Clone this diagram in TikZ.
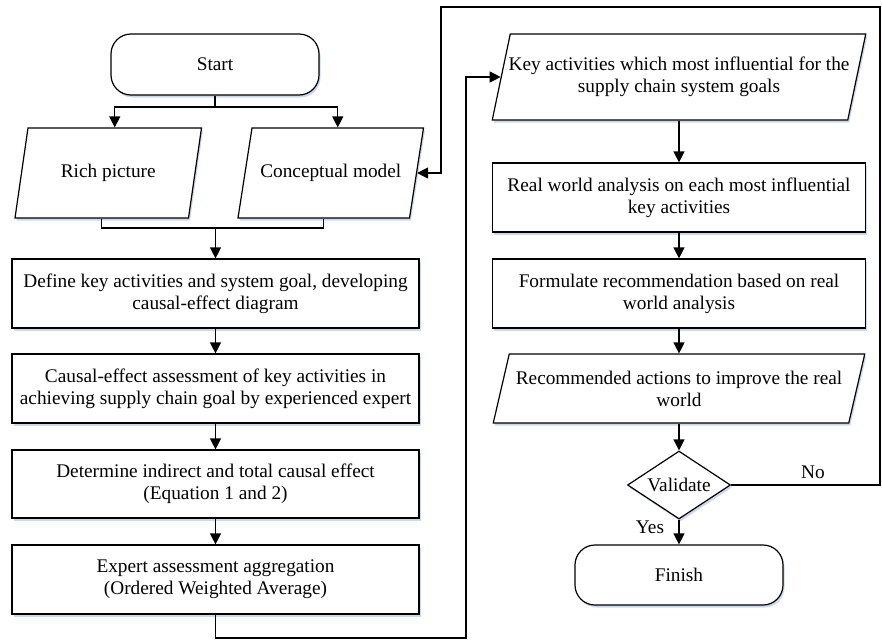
\documentclass[tikz,border=0pt]{standalone}
\usepackage{fontspec}
\setmainfont{Liberation Serif}
\usetikzlibrary{arrows.meta,shapes.geometric,shadows}
\definecolor{shadowc}{RGB}{190,208,236}
\newcommand{\mypara}[7]{%
  \draw[pshape] (#2-#4/2+#6,#3-#5/2) -- (#2+#4/2+#6,#3-#5/2) -- (#2+#4/2-#6,#3+#5/2) -- (#2-#4/2-#6,#3+#5/2) -- cycle;
  \node[ptext, minimum width=#4, minimum height=#5] (#1) at (#2,#3) {#7};}
\begin{document}
\begin{tikzpicture}[x=1pt,y=-1pt,
  font=\fontsize{19.3}{22}\selectfont,
  line width=1.2pt,
  shade/.style={drop shadow={shadow xshift=1.5pt,shadow yshift=-2.5pt,fill=shadowc,opacity=0.8}},
  box/.style={draw, rectangle, align=center, inner sep=2pt, fill=white, shade},
  term/.style={box, rounded corners=20pt},
  pshape/.style={draw, fill=white, shade},
  ptext/.style={align=center, inner sep=0pt},
  dia/.style={draw, diamond, fill=white, shade, aspect=1.5, inner sep=0pt, minimum width=103, minimum height=68},
  arr/.style={-{Triangle[length=11pt,width=11pt]}},
  lab/.style={inner sep=0pt}]
\useasboundingbox (0,0) rectangle (882,640);

% left column
\node[term, minimum width=208, minimum height=61] (start) at (215,64.5) {Start};
\mypara{rich}{108.25}{173}{173.5}{90}{6.5}{Rich picture}
\mypara{concept}{330.75}{173}{171.5}{90}{7}{Conceptual model}
\node[box, minimum width=407, minimum height=69] (define) at (215.5,293.5) {Define key activities and system goal, developing\\causal-effect diagram};
\node[box, minimum width=407, minimum height=69] (causal) at (215.5,388.5) {Causal-effect assessment of key activities in\\achieving supply chain goal by experienced expert};
\node[box, minimum width=407, minimum height=68] (determine) at (215.5,484) {Determine indirect and total causal effect\\(Equation 1 and 2)};
\node[box, minimum width=407, minimum height=69] (expert) at (215.5,579.5) {Expert assessment aggregation\\(Ordered Weighted Average)};

% right column
\mypara{key}{679}{77}{355.5}{86}{9}{Key activities which most influential for the\\supply chain system goals}
\node[box, minimum width=373, minimum height=69] (real) at (679,197.5) {Real world analysis on each most influential\\key activities};
\node[box, minimum width=373, minimum height=69] (formulate) at (679,293.5) {Formulate recommendation based on real\\world analysis};
\mypara{recommend}{679}{388.5}{355.5}{69}{8}{Recommended actions to improve the real\\world}
\node[dia] (validate) at (679,485) {Validate};
\node[term, minimum width=208, minimum height=60] (finish) at (679,575) {Finish};

\node[lab] (yes) at (650,527) {Yes};
\node[lab] (no) at (813,472) {No};

% coordinates for connectors
\coordinate (s1) at (215,107);
\coordinate (j1) at (215.5,228);
\coordinate (b2) at (466,638);
\coordinate (r1) at (880,7);
\coordinate (r2) at (441,7);

% connectors
\draw (start.south) -- (s1);
\draw[arr] (s1) -| ([xshift=6.5pt]rich.north);
\draw[arr] (s1) -| ([xshift=7pt]concept.north);
\draw ([xshift=-6.5pt]rich.south) |- (j1) -| ([xshift=-7pt]concept.south);
\draw[arr] (j1) -- (define.north);
\draw[arr] (define.south) -- (causal.north);
\draw[arr] (causal.south) -- (determine.north);
\draw[arr] (determine.south) -- (expert.north);
\draw[arr] (expert.south) |- (b2) |- (key.west);
\draw[arr] (key.south) -- (real.north);
\draw[arr] (real.south) -- (formulate.north);
\draw[arr] (formulate.south) -- (recommend.north);
\draw[arr] (recommend.south) -- (validate.north);
\draw[arr] (validate.south) -- (finish.north);
\draw[arr] (validate.east) -| (r1) -- (r2) |- (concept.east);
\end{tikzpicture}
\end{document}
